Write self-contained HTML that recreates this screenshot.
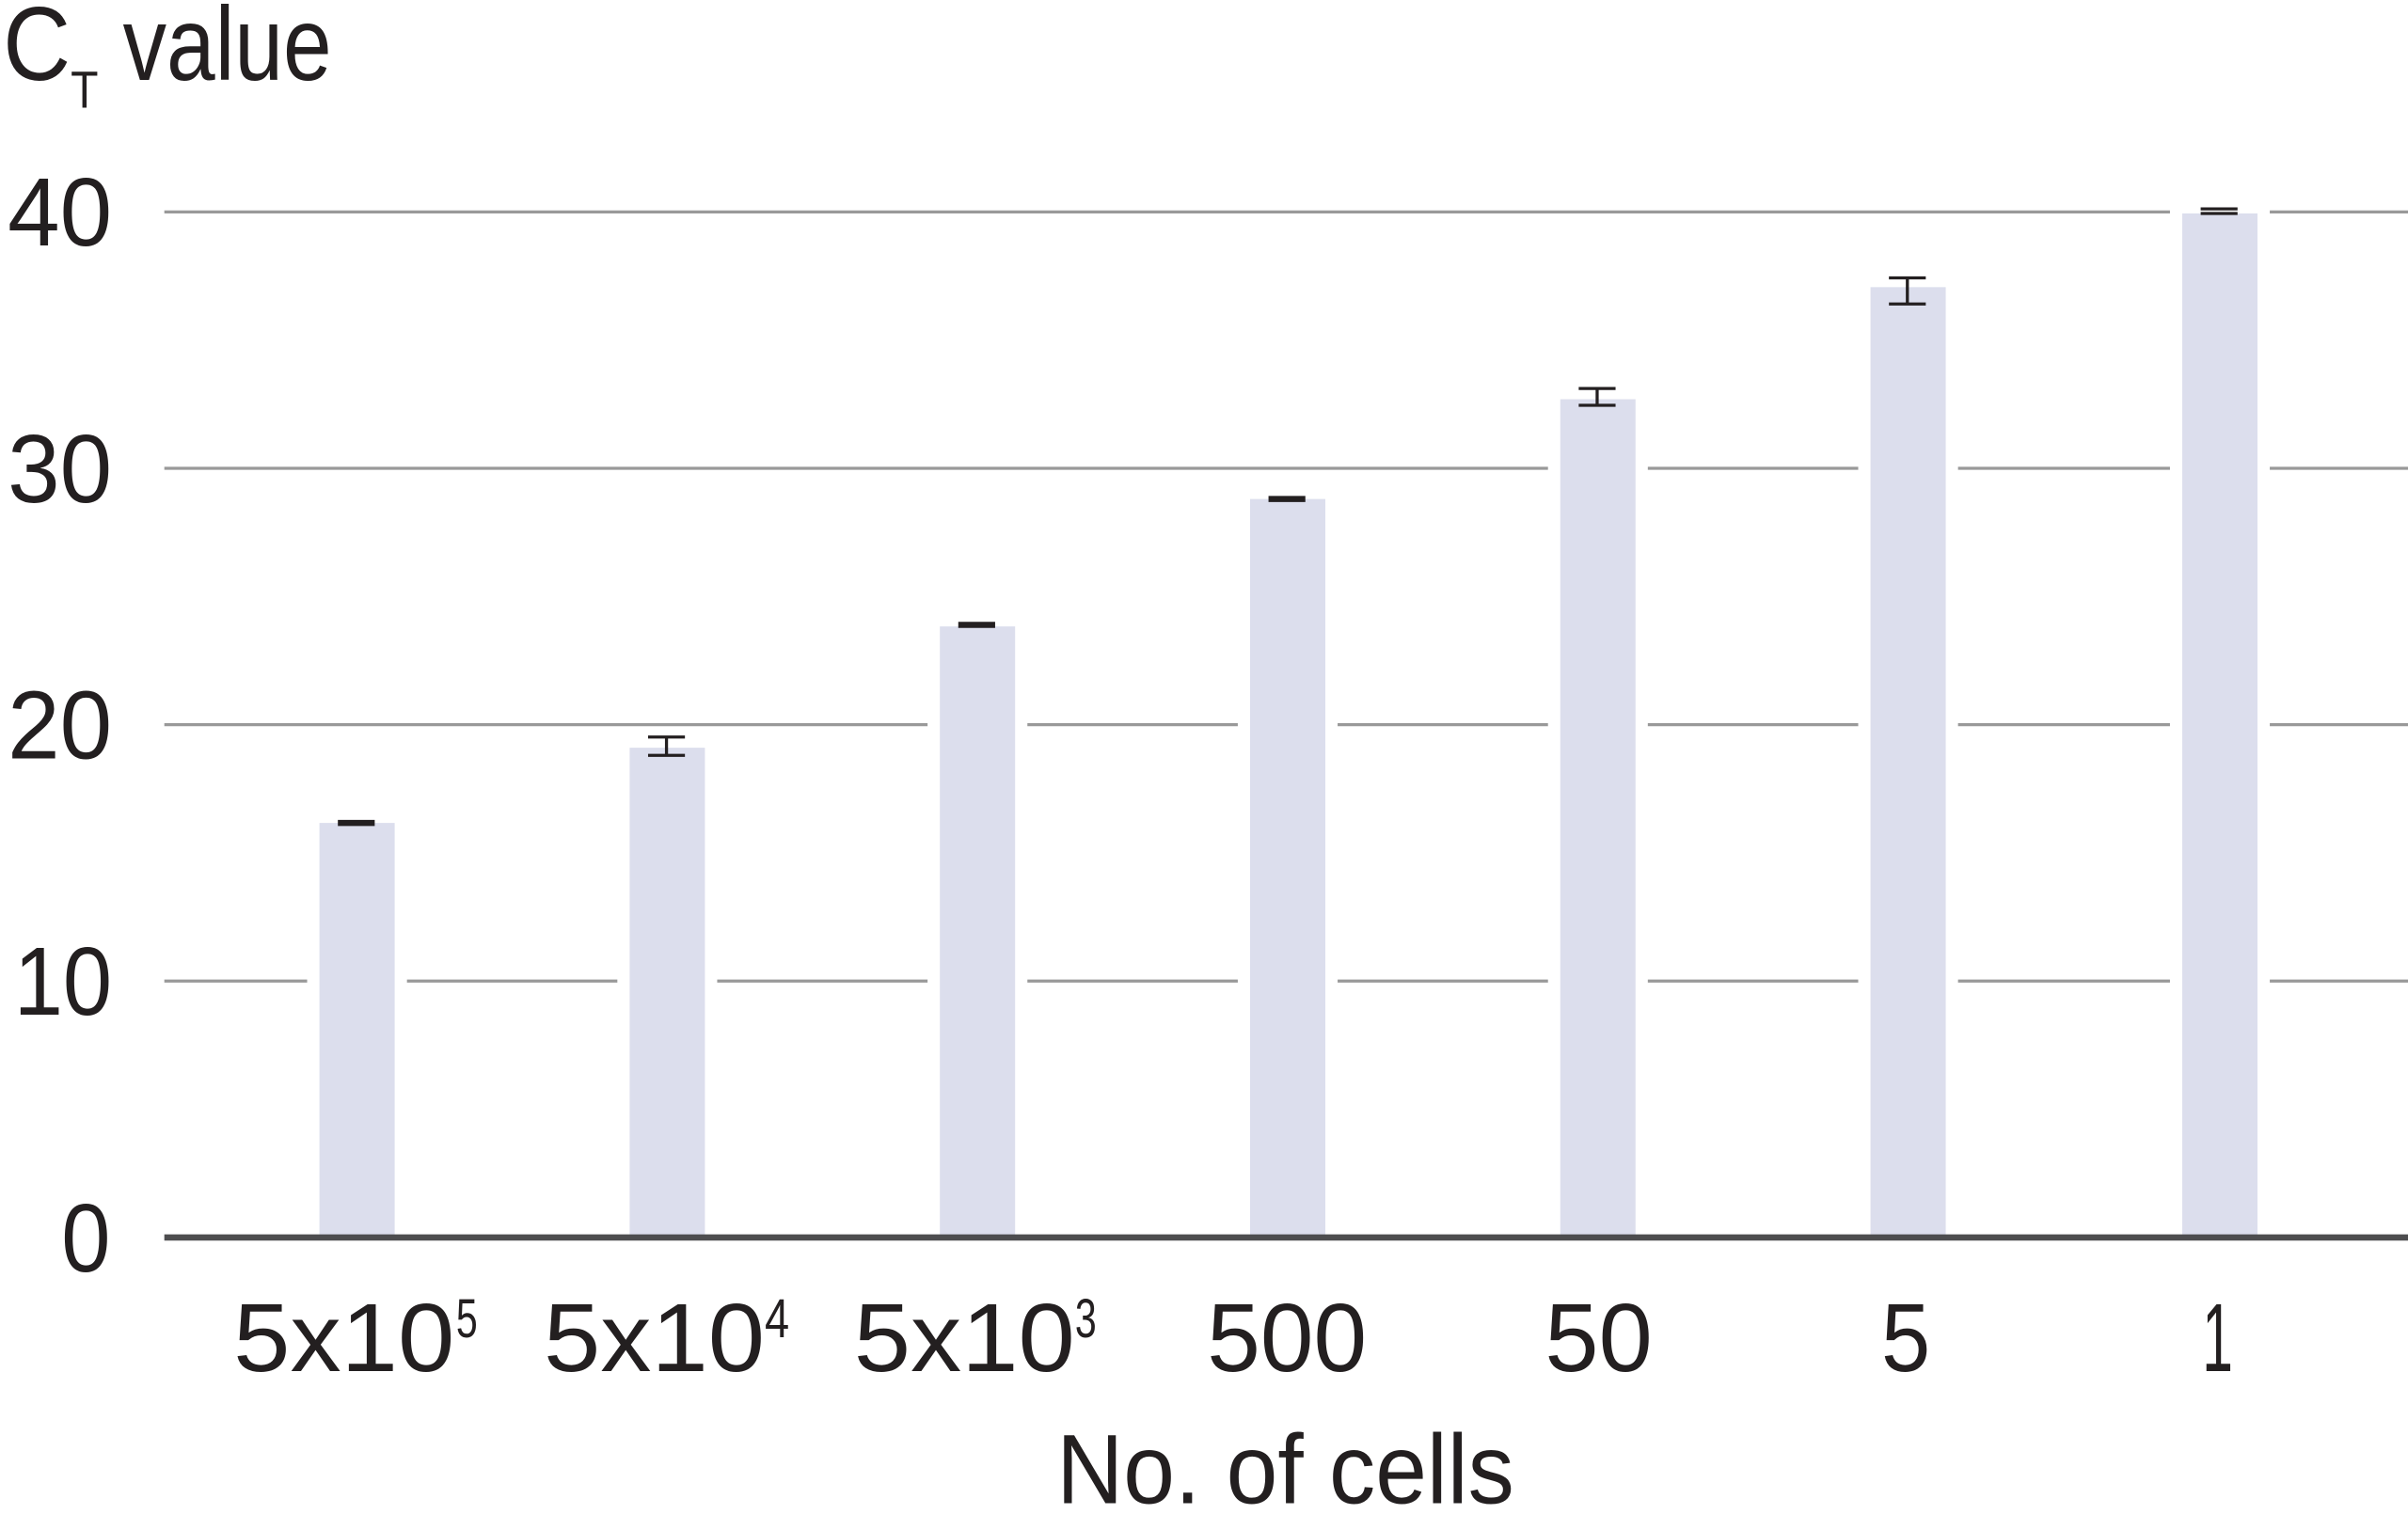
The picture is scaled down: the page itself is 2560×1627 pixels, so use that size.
<!DOCTYPE html>
<html><head><meta charset="utf-8"><style>html,body{margin:0;padding:0;background:#fff}svg{display:block}</style></head>
<body>
<svg width="2560" height="1627" viewBox="0 0 1568 996.5" xmlns="http://www.w3.org/2000/svg" font-family="Liberation Sans, DejaVu Sans, sans-serif" fill="#231f20">
<rect width="1568" height="996.5" fill="#fff"/>
<g stroke="#999" stroke-width="2">
<line x1="107" y1="138" x2="1568" y2="138"/>
<line x1="107" y1="305" x2="1568" y2="305"/>
<line x1="107" y1="472" x2="1568" y2="472"/>
<line x1="107" y1="639" x2="1568" y2="639"/>
</g>
<g fill="#dcdeed" stroke="#fff" stroke-width="16" paint-order="stroke">
<rect x="208" y="536" width="49" height="270"/>
<rect x="410" y="487" width="49" height="319"/>
<rect x="612" y="408" width="49" height="398"/>
<rect x="814" y="325" width="49" height="481"/>
<rect x="1016" y="260" width="49" height="546"/>
<rect x="1218" y="187" width="49" height="619"/>
<rect x="1421" y="139" width="49" height="667"/>
</g>
<g stroke="#231f20" stroke-width="2" fill="none">
<path d="M220 535h24M220 537h24M232 535v2"/>
<path d="M422 480h24M422 492h24M434 480v12"/>
<path d="M624 406h24M624 408h24"/>
<path d="M826 324h24M826 326h24"/>
<path d="M1028 253h24M1028 264h24M1040 253v11"/>
<path d="M1230 181h24M1230 198h24M1242 181v17"/>
<path d="M1433 136h24M1433 139h24"/>
</g>
<line x1="107" y1="806" x2="1568" y2="806" stroke="#4d4d4f" stroke-width="4"/>
<g font-size="63" text-anchor="end">
<text x="73" y="160" textLength="68" lengthAdjust="spacingAndGlyphs">40</text>
<text x="73" y="327" textLength="68" lengthAdjust="spacingAndGlyphs">30</text>
<text x="73" y="494" textLength="68" lengthAdjust="spacingAndGlyphs">20</text>
<text x="73" y="661" textLength="64" lengthAdjust="spacingAndGlyphs">10</text>
<text x="72" y="828" textLength="32" lengthAdjust="spacingAndGlyphs">0</text>
</g>
<text x="2" y="52" font-size="68" textLength="44" lengthAdjust="spacingAndGlyphs">C</text>
<text x="46" y="70" font-size="34" textLength="18" lengthAdjust="spacingAndGlyphs">T</text>
<text x="80" y="52" font-size="68" textLength="136" lengthAdjust="spacingAndGlyphs">value</text>
<g font-size="63">
<text x="152" y="893" textLength="144" lengthAdjust="spacingAndGlyphs">5x10</text><text x="297" y="871" font-size="36" textLength="14" lengthAdjust="spacingAndGlyphs">5</text>
<text x="354" y="893" textLength="144" lengthAdjust="spacingAndGlyphs">5x10</text><text x="498" y="871" font-size="36" textLength="16" lengthAdjust="spacingAndGlyphs">4</text>
<text x="556" y="893" textLength="144" lengthAdjust="spacingAndGlyphs">5x10</text><text x="700" y="871" font-size="36" textLength="14" lengthAdjust="spacingAndGlyphs">3</text>
<text x="786" y="893" textLength="104" lengthAdjust="spacingAndGlyphs">500</text>
<text x="1006" y="893" textLength="70" lengthAdjust="spacingAndGlyphs">50</text>
<text x="1225" y="893" textLength="32" lengthAdjust="spacingAndGlyphs">5</text>
<text x="1434" y="893" textLength="20" lengthAdjust="spacingAndGlyphs">1</text>
</g>
<text x="688" y="979" font-size="64" textLength="298" lengthAdjust="spacingAndGlyphs">No. of cells</text>
</svg>
</body></html>
